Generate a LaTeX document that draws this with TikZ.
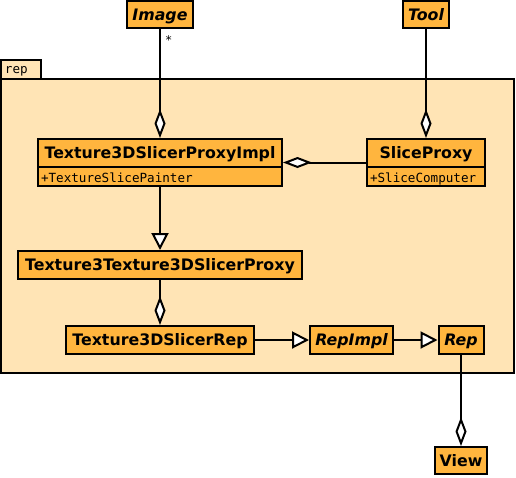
\documentclass[tikz,border=0pt]{standalone}
\usepackage{fontspec}
\setmainfont{DejaVu Sans}
\setmonofont{DejaVu Sans Mono}
\usepackage{tikz}
\usetikzlibrary{arrows.meta, positioning, fit}

\definecolor{classfill}{RGB}{255,181,62}
\definecolor{pkgfill}{RGB}{255,228,181}

\begin{document}
\begin{tikzpicture}[x=1pt, y=-1pt, line width=2pt,
	classbox/.style={draw, fill=classfill, inner sep=0pt, text height=11.5pt, text depth=0.5pt, font=\fontsize{15.8}{17}\selectfont\bfseries},
	abstractbox/.style={classbox, font=\fontsize{15.8}{17}\selectfont\bfseries\itshape},
	attrbox/.style={draw, fill=classfill, inner sep=0pt},
	attrtext/.style={anchor=base west, inner sep=0pt, font=\fontsize{12.6}{14}\selectfont\ttfamily},
	outline/.style={inner sep=-1pt},
	aggr/.style={-{Diamond[fill=white, length=29pt, width=11pt]}},
	inherit/.style={-{Triangle[fill=white, length=17pt, width=17pt]}}]
	\useasboundingbox (0,0) rectangle (516,477);
	% package rep
	\draw[fill=pkgfill] (1,60) rectangle (41,79);
	\draw[fill=pkgfill] (1,79) rectangle (514,373);
	\node[attrtext] (rep_label) at (4,73.5) {rep};
	% classes outside the package
	\node[abstractbox, minimum width=66pt, minimum height=27pt] (image_node) at (160,14.5) {Image};
	\node[abstractbox, minimum width=46pt, minimum height=27pt] (tool_node) at (426,14.5) {Tool};
	\node[classbox, minimum width=52pt, minimum height=27pt] (view_node) at (461,460.5) {View};
	% classes with an attribute
	\node[classbox, minimum width=244pt, minimum height=28pt] (impl_head) at (160,153) {Texture3DSlicerProxyImpl};
	\node[attrbox, minimum width=244pt, minimum height=19pt] (impl_attr) at (160,176.5) {};
	\node[attrtext] at ([xshift=3pt, yshift=-5.5pt]impl_attr.west) {+TextureSlicePainter};
	\node[outline, fit=(impl_head)(impl_attr)] (impl_node) {};
	\node[classbox, minimum width=118pt, minimum height=28pt] (slice_head) at (426,153) {SliceProxy};
	\node[attrbox, minimum width=118pt, minimum height=19pt] (slice_attr) at (426,176.5) {};
	\node[attrtext] at ([xshift=3pt, yshift=-5.5pt]slice_attr.west) {+SliceComputer};
	\node[outline, fit=(slice_head)(slice_attr)] (slice_node) {};
	% the other classes
	\node[classbox, minimum width=284pt, minimum height=28pt] (proxy_node) at (160,265) {Texture3Texture3DSlicerProxy};
	\node[classbox, minimum width=188pt, minimum height=28pt] (slicerrep_node) at (160,340) {Texture3DSlicerRep};
	\node[abstractbox, minimum width=83pt, minimum height=28pt] (repimpl_node) at (351.5,340) {RepImpl};
	\node[abstractbox, minimum width=45pt, minimum height=28pt] (rep_node) at (461,340) {Rep};
	% connectors
	\draw[aggr] (image_node) -- node[pos=0.1, right, inner sep=4pt, font=\fontsize{12}{12}\selectfont\ttfamily] {*} (impl_node);
	\draw[aggr] (tool_node) -- (slice_node);
	\draw[aggr] (slice_node) -- (impl_node);
	\draw[inherit] (impl_node) -- (proxy_node);
	\draw[aggr] (proxy_node) -- (slicerrep_node);
	\draw[inherit] (slicerrep_node) -- (repimpl_node);
	\draw[inherit] (repimpl_node) -- (rep_node);
	\draw[aggr] (rep_node) -- (view_node);
\end{tikzpicture}
\end{document}
